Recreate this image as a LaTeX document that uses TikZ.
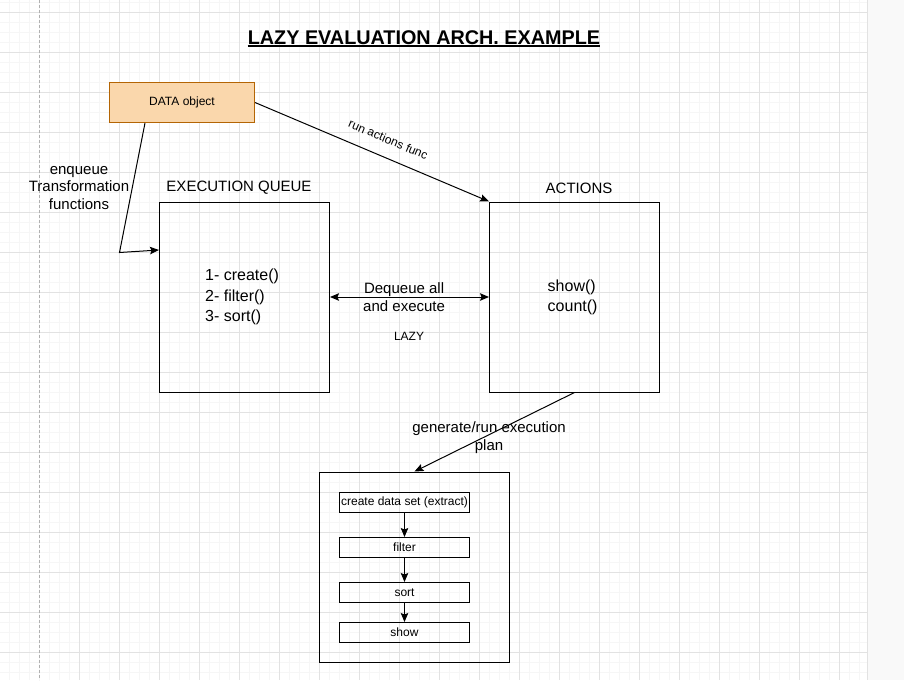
\documentclass[tikz,border=0pt]{standalone}
\usepackage{fontspec}
\setmainfont{Liberation Sans}
\usetikzlibrary{arrows.meta}
\definecolor{dataFill}{HTML}{FAD7AC}
\definecolor{dataLine}{HTML}{B46504}
\definecolor{gridMajor}{HTML}{E2E2E2}
\definecolor{gridMinor}{HTML}{F6F6F6}
\definecolor{pageEdge}{HTML}{B0B0B0}
\definecolor{sidePanel}{HTML}{F9F9F9}

\begin{document}
\begin{tikzpicture}[x=1pt, y=-1pt, auto,
    >={Stealth[length=9pt, width=7.5pt, inset=1.5pt]},
    container/.style ={rectangle, draw, line width=1pt, inner sep=0pt},
    stepbox/.style ={rectangle, draw, line width=1pt, inner sep=0pt, minimum width=130pt, minimum height=20pt, font=\fontsize{12}{14}\selectfont},
    caption/.style ={inner sep=0pt, anchor=center, align=center, font=\fontsize{15}{17.5}\selectfont},
    heading/.style ={inner sep=0pt, font=\fontsize{15}{18}\selectfont},
    listing/.style ={inner sep=0pt, anchor=west, align=left, font=\fontsize{16}{20.2}\selectfont}]
   \useasboundingbox (0,0) rectangle (904,680);
   % grid background
   \fill[white] (0,0) rectangle (866.5,680);
   \foreach \x in {9.5,19.5,...,859.5} \draw[gridMinor, line width=0.8pt] (\x,0) -- (\x,680);
   \foreach \y in {2.5,12.5,...,672.5} \draw[gridMinor, line width=0.8pt] (0,\y) -- (866.5,\y);
   \foreach \x in {79.5,119.5,...,839.5} \draw[gridMajor, line width=0.8pt] (\x,0) -- (\x,680);
   \foreach \y in {12.5,52.5,...,652.5} \draw[gridMajor, line width=0.8pt] (0,\y) -- (866.5,\y);
   \draw[pageEdge, line width=0.8pt, dash pattern=on 3pt off 2pt] (39.5,0) -- (39.5,680);
   \fill[sidePanel] (866.5,0) rectangle (904,680);
   \draw[gridMajor, line width=0.8pt] (867,0) -- (867,680);
   % title
   \node (T) [anchor=base, inner sep=0pt, font=\bfseries\fontsize{19.8}{23}\selectfont] at (424,44) {LAZY EVALUATION ARCH. EXAMPLE};
   \draw[line width=1.6pt] ([yshift=-2pt]T.base west) -- ([yshift=-2pt]T.base east);
   % boxes
   \node[container, fill=dataFill, draw=dataLine, minimum width=145pt, minimum height=40pt, font=\fontsize{12}{14}\selectfont] (D) at (182,102.5) {DATA object};
   \node[container, minimum width=170pt, minimum height=190pt] (Q) at (244.5,297) {};
   \node[container, minimum width=170pt, minimum height=190pt] (A) at (574.5,297) {};
   \node[container, minimum width=190pt, minimum height=190pt] (P) at (414.5,567) {};
   \node[heading] (QH) at (239,188) {EXECUTION QUEUE};
   \node[heading] (AH) at (579,188) {ACTIONS};
   \node[listing] (QL) at (205,297) {1- create()\\2- filter()\\3- sort()};
   \node[listing] (AL) at (547.5,297) {show()\\count()};
   \node[stepbox] (S1) at (404.5,502.5) {create data set (extract)};
   \node[stepbox] (S2) at (404.5,547.5) {filter};
   \node[stepbox] (S3) at (404.5,592.5) {sort};
   \node[stepbox] (S4) at (404.5,632.5) {show};
   \node[caption] (E) at (79,188) {enqueue\\Transformation\\functions};
   \node[inner sep=0pt, font=\fontsize{12}{14}\selectfont] (L) at (409,336) {LAZY};
   \coordinate (K) at (119.5,252.5);
   % connectors
   \draw[line width=1pt, ->] ([xshift=36pt]D.south west) -- (K) -- ([yshift=47pt]Q.west);
   \draw[line width=1pt, ->] (D.east) to node[sloped, above=13pt, pos=0.54, inner sep=0pt, font=\fontsize{12}{14}\selectfont] {run actions func} (A.north west);
   \draw[line width=1pt, <->] (Q) to node[caption, pos=0.466] {Dequeue all\\and execute} (A);
   \draw[line width=1pt, ->] (A.south) to node[caption, pos=0.534, yshift=-3pt] {generate/run execution\\plan} (P.north);
   \draw[line width=1pt, ->] (S1) to (S2);
   \draw[line width=1pt, ->] (S2) to (S3);
   \draw[line width=1pt, ->] (S3) to (S4);
\end{tikzpicture}
\end{document}
